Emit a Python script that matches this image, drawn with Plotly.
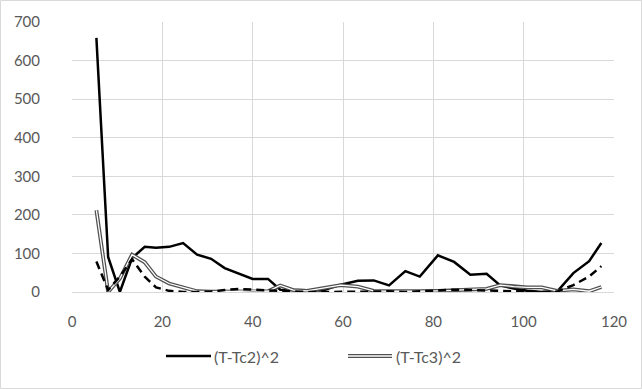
import plotly.graph_objects as go

# Shared x positions
x_vals = [5.4, 8.0, 10.6, 13.3, 16.1, 18.6, 21.5, 24.6, 27.7, 30.8, 33.8, 36.9,
          40.0, 43.4, 46.1, 49.0, 52.0, 55.5, 59.5, 63.3, 66.8, 70.2, 73.8, 77.0,
          81.0, 84.6, 88.2, 91.8, 94.8, 97.8, 100.8, 104.0, 107.4, 111.0, 114.5, 117.2]

# (T-Tc2)^2  - solid black
tc2 = [659, 91, 0, 88, 117, 115, 117, 127, 97, 86, 62, 47,
       34, 34, 6, 5, 5, 4, 19, 29, 30, 17, 54, 40,
       95, 78, 45, 47, 17, 9, 3, 0, 1, 49, 80, 127]

# (T-Tc3)^2  - double line
tc3 = [212, 0, 35, 97, 77, 40, 22, 12, 2, 1, 1, 2,
       3, 2, 17, 5, 3, 10, 18, 14, 3, 2, 1, 2,
       3, 4, 7, 8, 18, 14, 12, 12, 3, 7, 2, 13]

# unnamed dashed series (no legend entry)
tc1 = [79, 5, 40, 85, 40, 12, 3, 0, 0, 1, 5, 8,
       6, 4, 2, 1, 0, 0, 0, 0, 1, 2, 0, 2,
       4, 6, 5, 4, 3, 2, 1, 0, 1, 18, 40, 67]

x_ticks = [0, 20, 40, 60, 80, 100, 120]
y_ticks = [0, 100, 200, 300, 400, 500, 600, 700]
legend_names = ["(T-Tc2)^2", "(T-Tc3)^2"]

fig = go.Figure()
fig.add_trace(go.Scatter(x=x_vals, y=tc2, mode="lines", name=legend_names[0],
                         line=dict(color="black", width=2.5), showlegend=False))
fig.add_trace(go.Scatter(x=x_vals, y=tc3, mode="lines", name=legend_names[1],
                         line=dict(color="#505050", width=3.8), showlegend=False))
fig.add_trace(go.Scatter(x=x_vals, y=tc3, mode="lines", name=legend_names[1],
                         line=dict(color="white", width=1.3), showlegend=False))
fig.add_trace(go.Scatter(x=x_vals, y=tc1, mode="lines", name="",
                         line=dict(color="black", width=2.5, dash="8px,5px"),
                         showlegend=False))

L, R, T, B = 72, 28, 22, 97
W, H = 642, 389
pw, ph = W - L - R, H - T - B

def px(xp):
    return (xp - L) / pw

def py(yp):
    return (H - B - yp) / ph

font_family = "Lato, 'Open Sans', sans-serif"
shapes = [
    dict(type="rect", xref="paper", yref="paper", x0=px(0.5), x1=px(641.5),
         y0=py(388.5), y1=py(0.5), line=dict(color="#d9d9d9", width=1), layer="below"),
    dict(type="line", xref="paper", yref="paper", x0=px(166), x1=px(211),
         y0=py(356), y1=py(356), line=dict(color="black", width=2.5)),
    dict(type="line", xref="paper", yref="paper", x0=px(348), x1=px(392),
         y0=py(356), y1=py(356), line=dict(color="#505050", width=3.8)),
    dict(type="line", xref="paper", yref="paper", x0=px(348), x1=px(392),
         y0=py(356), y1=py(356), line=dict(color="white", width=1.3)),
]
annotations = [
    dict(xref="paper", yref="paper", x=px(212), y=py(356), text=legend_names[0],
         showarrow=False, xanchor="left", yanchor="middle",
         font=dict(family=font_family, size=16, color="#595959")),
    dict(xref="paper", yref="paper", x=px(394), y=py(356), text=legend_names[1],
         showarrow=False, xanchor="left", yanchor="middle",
         font=dict(family=font_family, size=16, color="#595959")),
]

fig.update_layout(
    width=W, height=H,
    margin=dict(l=L, r=R, t=T, b=B),
    paper_bgcolor="white", plot_bgcolor="white",
    showlegend=False,
    font=dict(family=font_family, size=15, color="#595959"),
    shapes=shapes, annotations=annotations,
    xaxis=dict(range=[0, 120], tickvals=x_ticks, showgrid=True, gridcolor="#d9d9d9",
               gridwidth=1, zeroline=False, showline=True, linecolor="#d9d9d9",
               ticks="", ticklen=0, ticklabelstandoff=16,
               tickfont=dict(size=15, color="#595959")),
    yaxis=dict(range=[0, 700], tickvals=y_ticks, showgrid=True, gridcolor="#d9d9d9",
               gridwidth=1, zeroline=False, showline=False, ticks="outside",
               ticklen=5, tickcolor="rgba(0,0,0,0)", ticklabelstandoff=23,
               tickfont=dict(size=15, color="#595959")),
)

fig.write_html("out.html")
